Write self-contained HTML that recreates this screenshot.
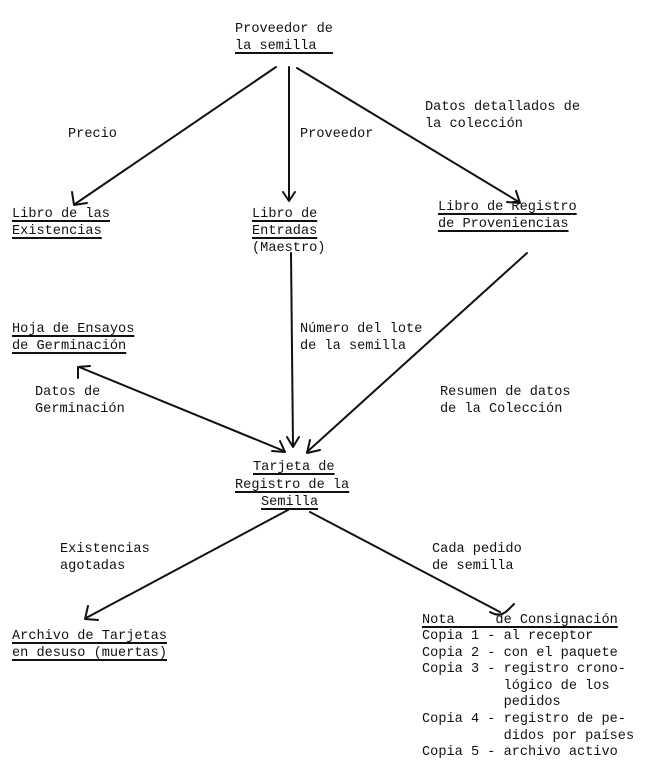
<!DOCTYPE html>
<html><head><meta charset="utf-8"><style>
body{margin:0;width:650px;height:776px;background:#fff;position:relative;overflow:hidden}
.t{position:absolute;font-family:"Liberation Mono",monospace;font-size:13.6px;line-height:17px;color:#111;white-space:pre}
.u{text-decoration:underline;text-decoration-thickness:1.5px;text-underline-offset:3px}
svg{position:absolute;left:0;top:0}
</style></head><body>
<svg width="650" height="776" viewBox="0 0 650 776" fill="none" stroke="#111" stroke-width="2" stroke-linecap="round" stroke-linejoin="round">
<path d="M276 67 L75 204"/><path d="M72 192 L74 205 L87 203"/>
<path d="M289 67 L289 200"/><path d="M283 192 L289 201 L295 192"/>
<path d="M297 68 L519 202"/><path d="M507 202 L520 203 L516 191"/>
<path d="M291 253 L293 446"/><path d="M287 437 L293 447 L299 437"/>
<path d="M527 253 L307 452"/><path d="M310 440 L307 453 L320 450"/>
<path d="M79 367 L284 451"/>
<path d="M78 378 L78 367 L90 366"/>
<path d="M272 451 L285 452 L280 441"/>
<path d="M288 510 L86 618"/><path d="M88 606 L85 619 L98 620"/>
<path d="M310 512 L500 612"/><path d="M490 612 Q500 618 508 610 Q512 606 514 604"/>
</svg>
<div class="t" style="left:235px;top:21px">Proveedor de</div>
<div class="t u" style="left:235px;top:38px">la semilla  </div>
<div class="t" style="left:68px;top:126px">Precio</div>
<div class="t" style="left:300px;top:126px">Proveedor</div>
<div class="t" style="left:425px;top:99px">Datos detallados de
la colección</div>
<div class="t u" style="left:12px;top:206px">Libro de las
Existencias</div>
<div class="t u" style="left:252px;top:206px">Libro de
Entradas</div>
<div class="t" style="left:252px;top:240px">(Maestro)</div>
<div class="t u" style="left:438px;top:199px">Libro de Registro
de Proveniencias</div>
<div class="t u" style="left:12px;top:321px">Hoja de Ensayos
de Germinación</div>
<div class="t" style="left:300px;top:321px">Número del lote
de la semilla</div>
<div class="t" style="left:35px;top:384px">Datos de
Germinación</div>
<div class="t" style="left:440px;top:384px">Resumen de datos
de la Colección</div>
<div class="t u" style="left:253px;top:459px">Tarjeta de</div>
<div class="t u" style="left:235px;top:477px">Registro de la</div>
<div class="t u" style="left:261px;top:494px">Semilla</div>
<div class="t" style="left:60px;top:541px">Existencias
agotadas</div>
<div class="t" style="left:432px;top:541px">Cada pedido
de semilla</div>
<div class="t u" style="left:12px;top:628px">Archivo de Tarjetas
en desuso (muertas)</div>
<div class="t u" style="left:422px;top:612px">Nota     de Consignación</div>
<div class="t" style="left:422px;top:629px;line-height:16.6px">Copia 1 - al receptor
Copia 2 - con el paquete
Copia 3 - registro crono-
          lógico de los
          pedidos
Copia 4 - registro de pe-
          didos por países
Copia 5 - archivo activo</div>
</body></html>
